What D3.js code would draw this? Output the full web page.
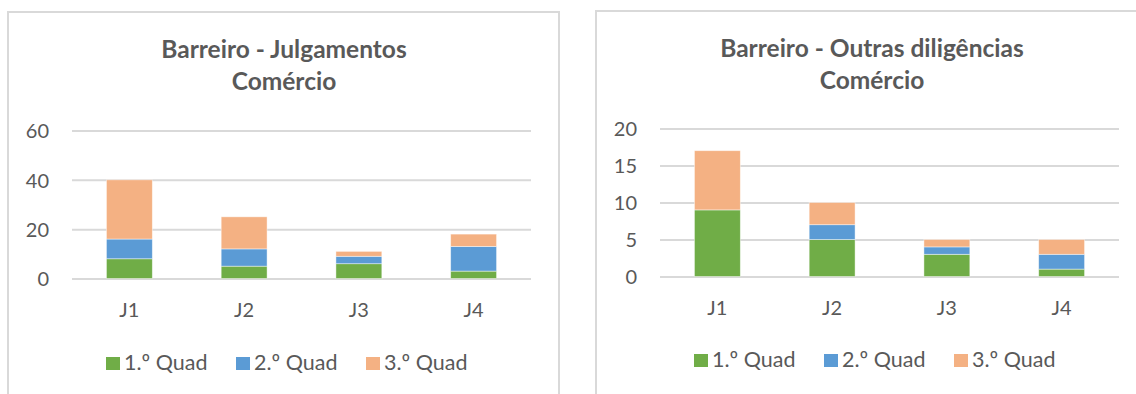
<!DOCTYPE html>
<html>
<head>
<meta charset="utf-8">
<script src="https://cdn.jsdelivr.net/npm/d3@7"></script>
<style>
  html, body { margin: 0; padding: 0; background: #fff; }
  svg { display: block; font-family: Lato, "Open Sans", sans-serif; }
</style>
</head>
<body>
<svg id="chart" width="1136" height="394"></svg>
<script>
// Categories and series shared by both panels
const categories = ["J1", "J2", "J3", "J4"];
const seriesNames = ["1.º Quad", "2.º Quad", "3.º Quad"];
const seriesColors = ["#70AD47", "#5B9BD5", "#F4B183"];

// Julgamentos per judge, per quarter-period
const julgQ1 = [8, 5, 6, 3];
const julgQ2 = [8, 7, 3, 10];
const julgQ3 = [24, 13, 2, 5];
const julgTicks = [0, 20, 40, 60];

// Outras diligências per judge, per quarter-period
const outQ1 = [9, 5, 3, 1];
const outQ2 = [0, 2, 1, 2];
const outQ3 = [8, 3, 1, 2];
const outTicks = [0, 5, 10, 15, 20];

const svg = d3.select("#chart");
const textColor = "#595959";
const gridColor = "#D9D9D9";

function drawPanel(opts) {
  const g = svg.append("g");

  // panel frame
  g.append("rect")
    .attr("x", opts.frame[0]).attr("y", opts.frame[1])
    .attr("width", opts.frame[2]).attr("height", opts.frame[3])
    .attr("fill", "#fff").attr("stroke", gridColor).attr("stroke-width", 2);

  // two-line title
  const title = g.append("text")
    .attr("text-anchor", "middle")
    .attr("fill", textColor)
    .attr("font-weight", "bold")
    .attr("font-size", 24.5);
  opts.title.forEach((line, i) => {
    title.append("tspan")
      .attr("x", opts.titleX)
      .attr("y", opts.titleY[i])
      .text(line);
  });

  const x = d3.scaleBand().domain(categories).range([opts.left, opts.right]).padding(0);
  const y = d3.scaleLinear().domain([0, d3.max(opts.ticks)]).range([opts.bottom, opts.top]);

  // horizontal gridlines
  const yAxis = d3.axisLeft(y).tickValues(opts.ticks).tickSize(-(opts.right - opts.left)).tickPadding(23);
  const ya = g.append("g").attr("transform", `translate(${opts.left},0)`).call(yAxis);
  ya.select(".domain").remove();
  ya.selectAll(".tick line").attr("stroke", gridColor).attr("stroke-width", 2);
  ya.selectAll(".tick text")
    .attr("fill", textColor).attr("font-size", 20)
    .attr("font-family", "Lato, 'Open Sans', sans-serif")
    .attr("dy", "0.36em");

  // stacked bars
  const rows = categories.map((c, i) => {
    const r = { cat: c };
    seriesNames.forEach((s, k) => { r[s] = opts.values[k][i]; });
    return r;
  });
  const stacked = d3.stack().keys(seriesNames)(rows);
  const barW = x.bandwidth() * 0.4;
  g.append("g").selectAll("g")
    .data(stacked)
    .join("g")
    .attr("fill", (d, k) => seriesColors[k])
    .selectAll("rect")
    .data(d => d.filter(p => p[1] > p[0]))
    .join("rect")
    .attr("x", d => x(d.data.cat) + (x.bandwidth() - barW) / 2)
    .attr("width", barW)
    .attr("y", d => y(d[1]))
    .attr("height", d => y(d[0]) - y(d[1]))
    .attr("stroke", "rgba(255,255,255,0.55)")
    .attr("stroke-width", 0.8);

  // category labels
  const xAxis = d3.axisBottom(x).tickSize(0).tickPadding(0);
  const xa = g.append("g").attr("transform", `translate(0,${opts.catY})`).call(xAxis);
  xa.select(".domain").remove();
  xa.selectAll(".tick text")
    .attr("fill", textColor).attr("font-size", 20)
    .attr("font-family", "Lato, 'Open Sans', sans-serif")
    .attr("dy", 0);

  // legend
  const lg = g.append("g").attr("transform", `translate(${opts.legendX},${opts.legendY})`);
  seriesNames.forEach((s, k) => {
    const item = lg.append("g").attr("transform", `translate(${k * 130},0)`);
    item.append("rect").attr("x", 0).attr("y", -13).attr("width", 14).attr("height", 13)
      .attr("fill", seriesColors[k]);
    item.append("text").attr("x", 18).attr("y", 0)
      .attr("fill", textColor).attr("font-size", 21.5).text(s);
  });
}

drawPanel({
  frame: [8, 12, 551, 400],
  title: ["Barreiro - Julgamentos", "Comércio"],
  titleX: 284, titleY: [57.5, 89.5],
  left: 72, right: 531, top: 130.5, bottom: 278.5,
  ticks: julgTicks,
  values: [julgQ1, julgQ2, julgQ3],
  catY: 316.5,
  legendX: 106, legendY: 370
});

drawPanel({
  frame: [596, 11, 560, 400],
  title: ["Barreiro - Outras diligências", "Comércio"],
  titleX: 872, titleY: [56.5, 88.5],
  left: 660, right: 1119, top: 128.5, bottom: 276.5,
  ticks: outTicks,
  values: [outQ1, outQ2, outQ3],
  catY: 315,
  legendX: 694, legendY: 367
});
</script>
</body>
</html>
